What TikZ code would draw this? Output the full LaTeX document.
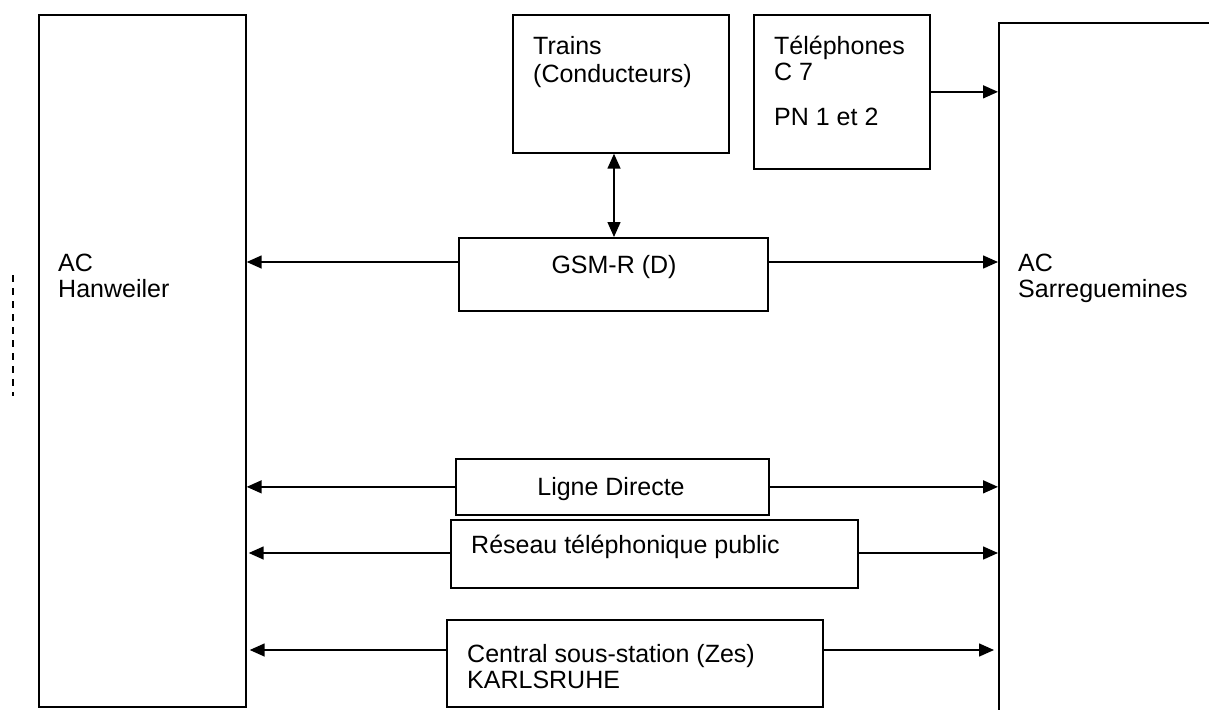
\documentclass[tikz,border=0pt]{standalone}
\usepackage{fontspec}
\setmainfont{Liberation Sans}
\usetikzlibrary{arrows.meta}
\tikzset{
  box/.style={draw, line width=1.7pt, inner sep=0pt, anchor=north west},
  txt/.style={font=\fontsize{25}{29}\selectfont, inner sep=0pt, anchor=base west},
  ctxt/.style={font=\fontsize{25}{29}\selectfont, inner sep=0pt, anchor=base},
  arr/.style={line width=1.5pt, -{Triangle[length=15pt,width=13pt]}},
  dbl/.style={line width=1.5pt, {Triangle[length=15pt,width=13pt]}-{Triangle[length=15pt,width=13pt]}},
  dline/.style={line width=1.5pt, dash pattern=on 7pt off 6pt}
}
\begin{document}
\begin{tikzpicture}[x=1pt,y=-1pt]
\useasboundingbox (0,0) rectangle (1209,709);
\clip (0,0) rectangle (1209,709);
% main boxes
\node[box, minimum width=207pt, minimum height=692pt] (hw) at (38,14) {};
\node[box, minimum width=260pt, minimum height=730pt] (sg) at (998,22) {};
\node[box, minimum width=216pt, minimum height=138pt] (trains) at (512,14) {};
\node[box, minimum width=176pt, minimum height=154pt] (tel) at (753,14) {};
\node[box, minimum width=309pt, minimum height=73pt] (gsm) at (458,237) {};
\node[box, minimum width=313pt, minimum height=56pt] (ligne) at (455,458) {};
\node[box, minimum width=407pt, minimum height=68pt] (reseau) at (450,519) {};
\node[box, minimum width=376pt, minimum height=87pt] (central) at (446,619) {};
% texts
\node[txt] (hw1) at (58,271) {AC};
\node[txt] (hw2) at (58,297) {Hanweiler};
\node[txt] (sg1) at (1018,271) {AC};
\node[txt] (sg2) at (1018,297) {Sarreguemines};
\node[txt] (tr1) at (533,55) {Trains};
\node[txt] (tr2) at (533,82) {(Conducteurs)};
\node[txt] (te1) at (774,55) {Téléphones};
\node[txt] (te2) at (774,81) {C 7};
\node[txt] (te3) at (774,125) {PN 1 et 2};
\node[ctxt] (gsmt) at (614,273) {GSM-R (D)};
\node[ctxt] (lignet) at (611,495) {Ligne Directe};
\node[txt] (reseaut) at (471,553) {Réseau téléphonique public};
\node[txt] (cen1) at (467,662) {Central sous-station (Zes)};
\node[txt] (cen2) at (467,688) {KARLSRUHE};
% dashed mark
\draw[dline] (13,275) -- (13,396);
% connectors
\draw[dbl] (gsm.north -| 614,0) -- (trains.south -| 614,0);
\draw[arr] (tel.east) -- (tel.east -| sg.west);
\draw[arr] ([yshift=-25pt]gsm.north west) -- ([yshift=-25pt]gsm.north west -| hw.east);
\draw[arr] ([yshift=-25pt]gsm.north east) -- ([yshift=-25pt]gsm.north east -| sg.west);
\draw[arr] (ligne.west) -- (ligne.west -| hw.east);
\draw[arr] (ligne.east) -- (ligne.east -| sg.west);
\draw[arr] ([yshift=-34pt]reseau.north west) -- ([yshift=-34pt,xshift=2pt]reseau.north west -| hw.east);
\draw[arr] ([yshift=-34pt]reseau.north east) -- ([yshift=-34pt]reseau.north east -| sg.west);
\draw[arr] ([yshift=-31pt]central.north west) -- ([yshift=-31pt,xshift=3pt]central.north west -| hw.east);
\draw[arr] ([yshift=-31pt]central.north east) -- ([yshift=-31pt,xshift=-4pt]central.north east -| sg.west);
\end{tikzpicture}
\end{document}
